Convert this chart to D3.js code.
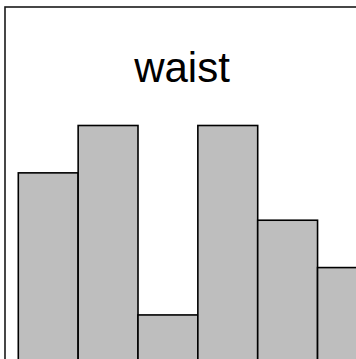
<!DOCTYPE html>
<html>
<head>
<meta charset="utf-8">
<script src="https://cdn.jsdelivr.net/npm/d3@7"></script>
<style>
  html, body { margin: 0; padding: 0; background: #fff; overflow: hidden; }
  svg { display: block; }
</style>
</head>
<body>
<svg id="chart" width="356" height="359"></svg>
<script>
// Histogram of waist measurements: bin edges and counts per bin
const binEdges = [70, 75, 80, 85, 90, 95, 100];
const counts = [4, 5, 1, 5, 3, 2];
const title = "waist";

const svg = d3.select("#chart");

// Plot region (extends past the lower and right edges of the view)
const x = d3.scaleLinear()
  .domain([binEdges[0], binEdges[binEdges.length - 1]])
  .range([18.3, 377.4]);
const y = d3.scaleLinear()
  .domain([0, 5])
  .range([362.3, 125.5]);

const bins = counts.map((c, i) => ({ x0: binEdges[i], x1: binEdges[i + 1], count: c }));

svg.append("g")
  .selectAll("rect")
  .data(bins)
  .join("rect")
  .attr("x", d => x(d.x0))
  .attr("y", d => y(d.count))
  .attr("width", d => x(d.x1) - x(d.x0))
  .attr("height", d => y(0) - y(d.count))
  .attr("fill", "#bebebe")
  .attr("stroke", "#000")
  .attr("stroke-width", 1.6);

// Panel frame
svg.append("rect")
  .attr("x", 5)
  .attr("y", 7)
  .attr("width", 370)
  .attr("height", 400)
  .attr("fill", "none")
  .attr("stroke", "#1a1a1a")
  .attr("stroke-width", 1.6);

svg.append("text")
  .attr("x", 182)
  .attr("y", 81.5)
  .attr("text-anchor", "middle")
  .attr("font-family", "Liberation Sans, Arial, sans-serif")
  .attr("font-size", 42)
  .attr("fill", "#000")
  .text(title);
</script>
</body>
</html>
